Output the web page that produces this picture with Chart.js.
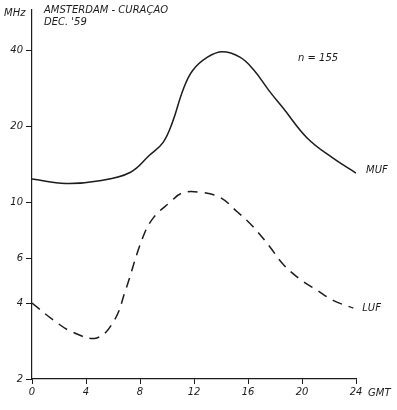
<!DOCTYPE html>
<html>
<head>
<meta charset="utf-8">
<script src="https://cdn.jsdelivr.net/npm/chart.js@4"></script>
<style>
  body { margin: 0; background: #fff; }
  #wrap { width: 397px; height: 410px; position: relative; }
</style>
</head>
<body>
<div id="wrap"><canvas id="chart"></canvas></div>
<script>
// data (hours GMT, MHz)
const mufHours = [0, 2.5, 5, 7.3, 8.7, 9.7, 10.4, 11.2, 11.9, 13, 14.1, 15.4, 16.4, 17.6, 18.6, 20.4, 22.3, 24];
const mufValues = [12.4, 11.9, 12.2, 13.2, 15.4, 17.3, 20.8, 28.1, 33.4, 37.7, 39.6, 37.7, 33.7, 27.6, 23.7, 18.0, 15.0, 13.1];
const lufHours = [0, 1.6, 3.0, 4.8, 6.1, 6.9, 8.2, 9.0, 10.2, 11.1, 12.4, 13.9, 15.2, 16.4, 17.6, 18.6, 19.9, 21.1, 22.3, 23.8];
const lufValues = [4.0, 3.42, 3.07, 2.91, 3.42, 4.45, 7.26, 8.72, 10.0, 10.9, 11.0, 10.5, 9.2, 8.0, 6.7, 5.7, 4.95, 4.5, 4.1, 3.82];
const yTicks = [2, 4, 6, 10, 20, 40];
const xTicks = [0, 4, 8, 12, 16, 20, 24];

const ink = '#1c1c1c';
const font = 'italic 10px "DejaVu Sans"';

function toPoints(xs, ys) {
  return xs.map((x, i) => ({ x: x, y: ys[i] }));
}

// labels drawn on top of the plot (title, units, curve names)
const labelPlugin = {
  id: 'labels',
  afterDraw(chart) {
    const ctx = chart.ctx;
    const xs = chart.scales.x, ys = chart.scales.y;
    ctx.save();
    ctx.fillStyle = ink;
    ctx.font = font;
    ctx.textBaseline = 'middle';
    ctx.textAlign = 'left';
    ctx.fillText('AMSTERDAM - CURAÇAO', 44, 10);
    ctx.fillText("DEC. '59", 44, 22);
    ctx.fillText('MHz', 4, 13);
    ctx.fillText('n = 155', 298, 58);
    const mLast = mufHours.length - 1, lLast = lufHours.length - 1;
    ctx.fillText('MUF', xs.getPixelForValue(mufHours[mLast]) + 10, ys.getPixelForValue(mufValues[mLast]) - 3);
    ctx.fillText('LUF', xs.getPixelForValue(lufHours[lLast]) + 9, ys.getPixelForValue(lufValues[lLast]));
    ctx.fillText('GMT', xs.right + 12, 393);
    ctx.restore();
  }
};

new Chart(document.getElementById('chart'), {
  type: 'line',
  data: {
    datasets: [
      {
        label: 'MUF',
        data: toPoints(mufHours, mufValues),
        borderColor: ink,
        borderWidth: 1.5,
        pointRadius: 0,
        tension: 0.4,
        fill: false
      },
      {
        label: 'LUF',
        data: toPoints(lufHours, lufValues),
        borderColor: ink,
        borderWidth: 1.5,
        borderDash: [10, 7],
        pointRadius: 0,
        tension: 0.4,
        fill: false
      }
    ]
  },
  options: {
    responsive: true,
    maintainAspectRatio: false,
    animation: false,
    layout: { padding: { top: 10, right: 41, left: 0, bottom: 0 } },
    plugins: { legend: { display: false }, tooltip: { enabled: false } },
    scales: {
      x: {
        type: 'linear',
        min: 0,
        max: 24,
        afterBuildTicks: (scale) => { scale.ticks = xTicks.map(v => ({ value: v })); },
        afterFit: (scale) => { scale.height = 31; },
        ticks: {
          color: ink,
          font: { family: 'DejaVu Sans', size: 10, style: 'italic' },
          padding: 2,
          maxRotation: 0,
          callback: (v) => String(v)
        },
        grid: { drawOnChartArea: false, drawTicks: true, tickLength: 5, color: ink },
        border: { display: true, color: ink, width: 1.2 }
      },
      y: {
        type: 'logarithmic',
        min: 2,
        max: 58,
        afterBuildTicks: (scale) => { scale.ticks = yTicks.map(v => ({ value: v })); },
        afterFit: (scale) => { scale.width = 32; },
        ticks: {
          color: ink,
          font: { family: 'DejaVu Sans', size: 10, style: 'italic' },
          padding: 3,
          callback: (v) => String(v)
        },
        grid: { drawOnChartArea: false, drawTicks: true, tickLength: 6, color: ink },
        border: { display: true, color: ink, width: 1.2 }
      }
    }
  },
  plugins: [labelPlugin]
});
</script>
</body>
</html>
